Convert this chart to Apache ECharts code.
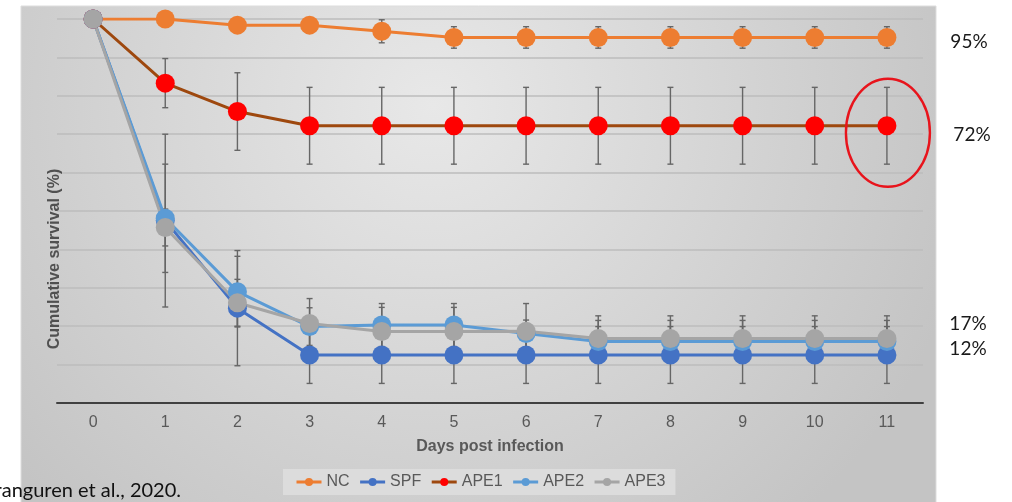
<!DOCTYPE html>
<html>
<head>
<meta charset="utf-8">
<script src="https://cdn.jsdelivr.net/npm/echarts@6/dist/echarts.min.js"></script>
<style>
  html, body { margin: 0; padding: 0; background: #ffffff; }
  #chart { width: 1012px; height: 502px; }
</style>
</head>
<body>
<div id="chart"></div>
<script>
// Days after challenge
const days = ['0', '1', '2', '3', '4', '5', '6', '7', '8', '9', '10', '11'];

// Cumulative survival (%) per group
const ncSurvival   = [100, 100, 98.4, 98.4, 96.8, 95.2, 95.2, 95.2, 95.2, 95.2, 95.2, 95.2];
const spfSurvival  = [100, 47.5, 24.7, 12.5, 12.5, 12.5, 12.5, 12.5, 12.5, 12.5, 12.5, 12.5];
const ape1Survival = [100, 83.3, 75.9, 72.2, 72.2, 72.2, 72.2, 72.2, 72.2, 72.2, 72.2, 72.2];
const ape2Survival = [100, 48.1, 29.0, 19.9, 20.3, 20.3, 18.1, 16.0, 16.0, 16.0, 16.0, 16.0];
const ape3Survival = [100, 45.7, 26.1, 20.7, 18.6, 18.6, 18.7, 16.8, 16.8, 16.8, 16.8, 16.8];

// Standard deviation (± %) per group
const ncErr   = [0, 0, 0, 0, 3.0, 2.8, 2.8, 2.8, 2.8, 2.8, 2.8, 2.8];
const spfErr  = [0, 22.5, 15.0, 7.4, 7.4, 7.4, 7.4, 7.4, 7.4, 7.4, 7.4, 7.4];
const ape1Err = [0, 6.4, 10.1, 10.0, 10.0, 10.0, 10.0, 10.0, 10.0, 10.0, 10.0, 10.0];
const ape2Err = [0, 14.1, 9.2, 4.9, 5.6, 5.6, 3.5, 5.5, 5.5, 5.5, 5.5, 5.5];
const ape3Err = [0, 4.8, 6.1, 6.5, 6.3, 6.3, 7.2, 5.9, 5.9, 5.9, 5.9, 5.9];

// Final survival callouts
const finalLabels = ['95%', '72%', '17%', '12%'];

const groups = [
  { name: 'NC',   values: ncSurvival,   err: ncErr,   marker: '#ED7D31', line: '#ED7D31' },
  { name: 'SPF',  values: spfSurvival,  err: spfErr,  marker: '#4472C4', line: '#4472C4' },
  { name: 'APE1', values: ape1Survival, err: ape1Err, marker: '#FF0000', line: '#9E480E' },
  { name: 'APE2', values: ape2Survival, err: ape2Err, marker: '#5B9BD5', line: '#5B9BD5' },
  { name: 'APE3', values: ape3Survival, err: ape3Err, marker: '#A5A5A5', line: '#A5A5A5' }
];

// Error bar records: [dayIndex, low, high]
const errorData = [];
groups.forEach(g => {
  g.values.forEach((v, i) => {
    if (g.err[i] > 0) errorData.push([i, v - g.err[i], v + g.err[i]]);
  });
});

const chart = echarts.init(document.getElementById('chart'), null, { renderer: 'canvas' });

const lineSeries = groups.map(g => ({
  name: g.name,
  type: 'line',
  data: g.values,
  symbol: 'circle',
  symbolSize: 19,
  showSymbol: true,
  z: 3,
  lineStyle: { color: g.line, width: 3 },
  itemStyle: { color: g.marker, borderWidth: 0 },
  emphasis: { disabled: true }
}));

const errorSeries = {
  name: 'error',
  type: 'custom',
  z: 2,
  data: errorData,
  encode: { x: 0, y: [1, 2] },
  renderItem: function (params, api) {
    const lo = api.coord([api.value(0), api.value(1)]);
    const hi = api.coord([api.value(0), api.value(2)]);
    const cap = 3;
    const style = { stroke: '#666666', lineWidth: 1.4 };
    return {
      type: 'group',
      children: [
        { type: 'line', shape: { x1: lo[0], y1: lo[1], x2: hi[0], y2: hi[1] }, style },
        { type: 'line', shape: { x1: lo[0] - cap, y1: lo[1], x2: lo[0] + cap, y2: lo[1] }, style },
        { type: 'line', shape: { x1: hi[0] - cap, y1: hi[1], x2: hi[0] + cap, y2: hi[1] }, style }
      ]
    };
  }
};

const labelFont = 'Lato, "Noto Sans", sans-serif';

chart.setOption({
  animation: false,
  backgroundColor: '#ffffff',
  grid: { left: 57, right: 89, top: 19, bottom: 99, containLabel: false },
  xAxis: {
    type: 'category',
    data: days,
    boundaryGap: true,
    axisTick: { show: false },
    axisLine: { lineStyle: { color: '#404040', width: 2 } },
    axisLabel: { color: '#595959', fontSize: 16, margin: 12, fontFamily: 'Liberation Sans, Arial, sans-serif' },
    name: 'Days post infection',
    nameLocation: 'middle',
    nameGap: 36,
    nameTextStyle: { color: '#595959', fontSize: 16, fontWeight: 'bold', fontFamily: 'Liberation Sans, Arial, sans-serif' },
    splitLine: { show: false }
  },
  yAxis: {
    type: 'value',
    min: 0,
    max: 100,
    interval: 10,
    axisLabel: { show: false },
    axisLine: { show: false },
    axisTick: { show: false },
    splitLine: { lineStyle: { color: '#bcbcbc', width: 1.5 } }
  },
  legend: {
    data: groups.map(g => g.name),
    left: 283,
    top: 469,
    padding: [5, 10, 5, 12],
    itemGap: 9,
    itemWidth: 25,
    itemHeight: 10,
    lineStyle: { width: 3 },
    backgroundColor: '#dcdcdc',
    textStyle: { color: '#595959', fontSize: 16, fontFamily: 'Liberation Sans, Arial, sans-serif' },
    selectedMode: false
  },
  series: lineSeries.concat([errorSeries])
});

// Panel, axis title, callouts and highlight ring around the APE1 end point
const ring = chart.convertToPixel({ gridIndex: 0 }, [11, ape1Survival[11]]);
chart.setOption({
  graphic: [
    {
      type: 'rect',
      z: -100,
      silent: true,
      shape: { x: 21, y: 6, width: 915, height: 500 },
      style: {
        fill: {
          type: 'radial', x: 0.45, y: 0.2, r: 1.1,
          colorStops: [
            { offset: 0, color: '#e8e8e8' },
            { offset: 1, color: '#c4c4c4' }
          ]
        },
        stroke: '#dddddd',
        lineWidth: 1
      }
    },
    {
      type: 'text',
      z: 100,
      x: 55,
      y: 259,
      rotation: Math.PI / 2,
      style: {
        text: 'Cumulative survival (%)',
        fill: '#505050',
        font: 'bold 16px "Liberation Sans", Arial, sans-serif',
        textAlign: 'center',
        textVerticalAlign: 'middle'
      }
    },
    {
      type: 'ellipse',
      z: 100,
      shape: { cx: ring[0] + 1, cy: ring[1] + 7, rx: 42, ry: 54 },
      style: { fill: 'none', stroke: '#E8141C', lineWidth: 2.4 }
    },
    { type: 'text', z: 100, x: 969, y: 42, style: { text: finalLabels[0], fill: '#1a1a1a', font: '19px ' + labelFont, textAlign: 'center', textVerticalAlign: 'middle' } },
    { type: 'text', z: 100, x: 972, y: 135, style: { text: finalLabels[1], fill: '#1a1a1a', font: '19px ' + labelFont, textAlign: 'center', textVerticalAlign: 'middle' } },
    { type: 'text', z: 100, x: 968, y: 324, style: { text: finalLabels[2], fill: '#1a1a1a', font: '19px ' + labelFont, textAlign: 'center', textVerticalAlign: 'middle' } },
    { type: 'text', z: 100, x: 968, y: 349, style: { text: finalLabels[3], fill: '#1a1a1a', font: '19px ' + labelFont, textAlign: 'center', textVerticalAlign: 'middle' } },
    { type: 'text', z: 100, x: 181, y: 501, style: { text: 'Aranguren et al., 2020.', fill: '#111111', font: '20px ' + labelFont, textAlign: 'right', textVerticalAlign: 'bottom' } }
  ]
});
</script>
</body>
</html>
